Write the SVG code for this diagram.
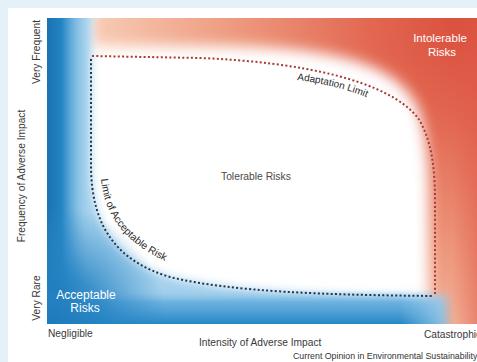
<svg xmlns="http://www.w3.org/2000/svg" width="477" height="362" viewBox="0 0 477 362">
  <style>
    .t { font-family: "Liberation Sans", Arial, sans-serif; }
    .axis { font-size: 10.2px; fill: #3a3a3a; }
    .lim { font-size: 10px; fill: #2a2a2a; }
    .wt { font-size: 11.5px; fill: #ffffff; text-anchor: middle; }
    .red-dots { fill: none; stroke: #a83a34; stroke-width: 2; stroke-dasharray: 2 2.3; }
    .navy-dots { fill: none; stroke: #1f3552; stroke-width: 2; stroke-dasharray: 2 2.3; }
  </style>
  <defs>
    <clipPath id="plotClip"><rect x="47" y="18" width="430" height="306"/></clipPath>
    <radialGradient id="redBase" gradientUnits="userSpaceOnUse" cx="477" cy="18" r="470">
      <stop offset="0" stop-color="#d84c3a"/>
      <stop offset="0.22" stop-color="#e26650"/>
      <stop offset="0.5" stop-color="#ed977c"/>
      <stop offset="0.78" stop-color="#f6c6ae"/>
      <stop offset="1" stop-color="#f9dacb"/>
    </radialGradient>
    <linearGradient id="rightEdge" x1="0" y1="0" x2="1" y2="0">
      <stop offset="0" stop-color="#e05a48" stop-opacity="0"/>
      <stop offset="1" stop-color="#e05a48" stop-opacity="0.5"/>
    </linearGradient>
    <linearGradient id="leftStripe" x1="0" y1="0" x2="1" y2="0">
      <stop offset="0" stop-color="#1a72b2"/>
      <stop offset="0.32" stop-color="#2384c3"/>
      <stop offset="0.55" stop-color="#5aa6d8" stop-opacity="0.8"/>
      <stop offset="1" stop-color="#b8dcf0" stop-opacity="0"/>
    </linearGradient>
    <linearGradient id="bottomStripe" x1="0" y1="0" x2="0" y2="1">
      <stop offset="0" stop-color="#9ccbea" stop-opacity="0"/>
      <stop offset="0.35" stop-color="#5eaadc" stop-opacity="0.8"/>
      <stop offset="1" stop-color="#2686c6"/>
    </linearGradient>
    <linearGradient id="fadeRight" gradientUnits="userSpaceOnUse" x1="400" y1="0" x2="455" y2="0">
      <stop offset="0" stop-color="#fff"/>
      <stop offset="1" stop-color="#000"/>
    </linearGradient>
    <mask id="bottomMask" maskUnits="userSpaceOnUse" x="0" y="0" width="477" height="362">
      <rect x="0" y="0" width="477" height="362" fill="url(#fadeRight)"/>
    </mask>
    <radialGradient id="cornerBlue" gradientUnits="userSpaceOnUse" cx="47" cy="324" r="120">
      <stop offset="0" stop-color="#1e7abb"/>
      <stop offset="0.45" stop-color="#2482c2" stop-opacity="0.85"/>
      <stop offset="1" stop-color="#2f8ac8" stop-opacity="0"/>
    </radialGradient>
    <filter id="blurW" filterUnits="userSpaceOnUse" x="0" y="0" width="477" height="362">
      <feGaussianBlur stdDeviation="7"/>
    </filter>
    <filter id="blurB" filterUnits="userSpaceOnUse" x="0" y="0" width="477" height="362">
      <feGaussianBlur stdDeviation="5"/>
    </filter>
  </defs>

  <!-- background -->
  <rect x="0" y="0" width="477" height="362" fill="#e4f1f8"/>
  <rect x="8" y="8" width="469" height="354" fill="#ffffff"/>

  <!-- plot regions -->
  <g id="regions" clip-path="url(#plotClip)">
    <rect x="47" y="18" width="430" height="306" fill="url(#redBase)"/>
    <rect x="452" y="18" width="25" height="306" fill="url(#rightEdge)"/>
    <path d="M20,-10 L92,-10 L92,46 L230,46 C330,48 398,62 418,108 C428,138 429,170 429,200 L429,380 L20,380 Z" fill="#ffffff" filter="url(#blurW)"/>
    <path d="M20,-10 L91,-10 L91,165 C91,230 120,262 170,277 C230,292 330,295 434,296 L446,296 L446,380 L20,380 Z" fill="#a4d0ec" filter="url(#blurB)"/>
    <rect x="47" y="18" width="46" height="306" fill="url(#leftStripe)"/>
    <g mask="url(#bottomMask)">
      <rect x="47" y="290" width="430" height="34" fill="url(#bottomStripe)"/>
    </g>
    <rect x="47" y="200" width="130" height="124" fill="url(#cornerBlue)"/>
  </g>

  <!-- connectors: limit lines -->
  <g id="connectors">
    <path id="adaptation-limit" class="red-dots" d="M92,56 L200,58 C300,62 388,80 418,118 C432,140 435,170 435,200 L435,294"/>
    <path id="acceptable-limit" class="navy-dots" d="M91,59 L91,165 C91,230 120,262 170,277 C230,292 330,295 433,296"/>
  </g>

  <!-- labels -->
  <g id="intolerable">
    <text class="t wt" x="440" y="42">Intolerable</text>
    <text class="t wt" x="442" y="56">Risks</text>
  </g>
  <g id="acceptable">
    <text class="t wt" x="86" y="299" style="font-size:12px">Acceptable</text>
    <text class="t wt" x="85" y="312" style="font-size:12px">Risks</text>
  </g>
  <g id="tolerable">
    <text class="t" x="221" y="180" style="font-size:10.3px;fill:#4a4a4a">Tolerable Risks</text>
  </g>
  <g id="limit-labels">
    <path id="adaptPath" d="M297,80 Q339,85 375,101" fill="none"/>
    <text class="t lim"><textPath href="#adaptPath">Adaptation Limit</textPath></text>
    <path id="accPath" d="M101,179 C104,216 127,250 188,270" fill="none"/>
    <text class="t lim" style="font-size:10.3px"><textPath href="#accPath">Limit of Acceptable Risk</textPath></text>
  </g>
  <g id="axes">
    <text class="t axis" transform="translate(40,52) rotate(-90)" text-anchor="middle">Very Frequent</text>
    <text class="t axis" transform="translate(40,298) rotate(-90)" text-anchor="middle">Very Rare</text>
    <text class="t axis" transform="translate(25,176) rotate(-90)" text-anchor="middle">Frequency of Adverse Impact</text>
    <text class="t axis" x="48" y="337">Negligible</text>
    <text class="t axis" x="199" y="346">Intensity of Adverse Impact</text>
    <text class="t axis" x="424" y="338">Catastrophic</text>
    <text class="t" x="293" y="359" style="font-size:8.8px;fill:#333">Current Opinion in Environmental Sustainability</text>
  </g>
</svg>
